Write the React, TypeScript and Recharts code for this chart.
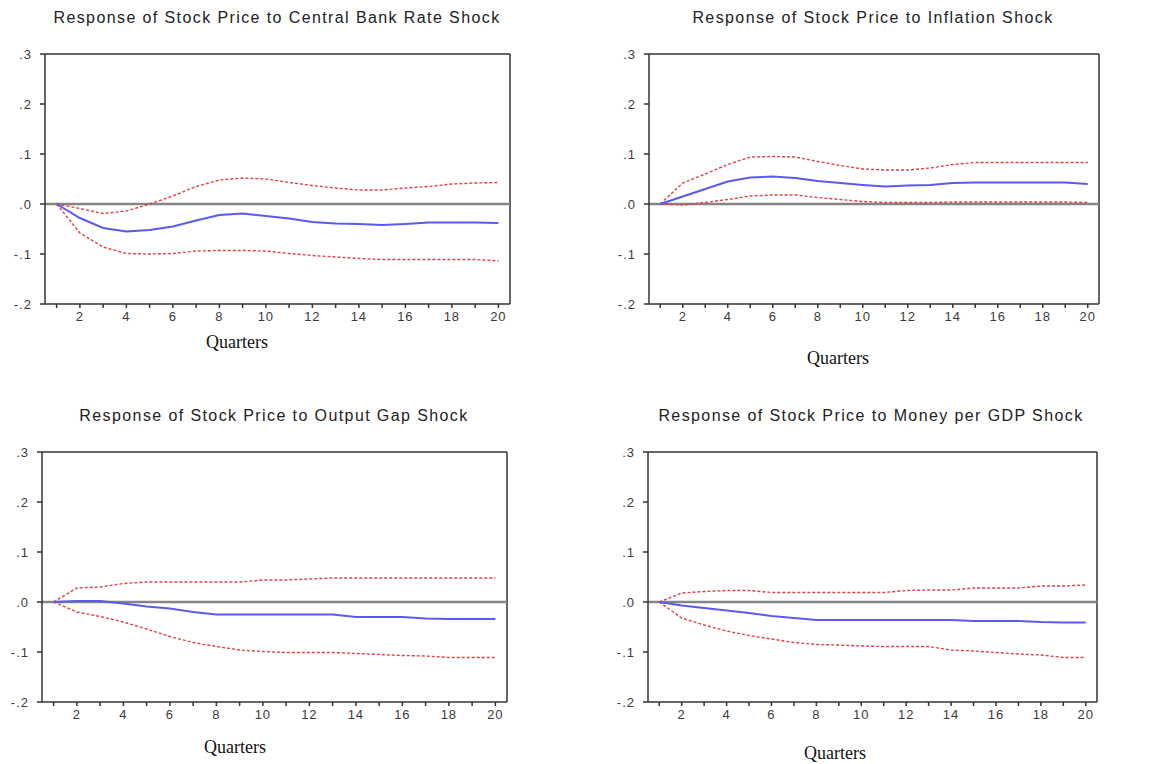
import React from 'react';
import { LineChart, Line, XAxis, YAxis, ReferenceLine } from 'recharts';

const quarters = [1, 2, 3, 4, 5, 6, 7, 8, 9, 10, 11, 12, 13, 14, 15, 16, 17, 18, 19, 20];
const yTicks = [-0.2, -0.1, 0, 0.1, 0.2, 0.3];

// Central bank rate shock
const rateResp = [0, -0.028, -0.048, -0.055, -0.052, -0.045, -0.033, -0.022, -0.019, -0.024, -0.029, -0.036, -0.039, -0.040, -0.042, -0.040, -0.037, -0.037, -0.037, -0.038];
const rateHi = [0, -0.009, -0.019, -0.014, 0.0, 0.016, 0.035, 0.048, 0.052, 0.050, 0.043, 0.037, 0.032, 0.028, 0.028, 0.032, 0.035, 0.040, 0.042, 0.043];
const rateLo = [0, -0.058, -0.086, -0.099, -0.100, -0.099, -0.094, -0.093, -0.093, -0.094, -0.099, -0.103, -0.106, -0.109, -0.111, -0.111, -0.111, -0.111, -0.111, -0.114];

// Inflation shock
const inflResp = [0, 0.015, 0.030, 0.045, 0.053, 0.055, 0.052, 0.046, 0.042, 0.038, 0.035, 0.037, 0.038, 0.042, 0.043, 0.043, 0.043, 0.043, 0.043, 0.040];
const inflHi = [0, 0.042, 0.060, 0.079, 0.094, 0.095, 0.094, 0.085, 0.077, 0.070, 0.068, 0.068, 0.072, 0.079, 0.083, 0.083, 0.083, 0.083, 0.083, 0.083];
const inflLo = [0, -0.002, 0.003, 0.009, 0.016, 0.018, 0.018, 0.013, 0.009, 0.005, 0.003, 0.003, 0.003, 0.004, 0.004, 0.004, 0.004, 0.004, 0.004, 0.003];

// Output gap shock
const gapResp = [0, 0.002, 0.002, -0.003, -0.009, -0.013, -0.020, -0.025, -0.025, -0.025, -0.025, -0.025, -0.025, -0.030, -0.030, -0.030, -0.033, -0.034, -0.034, -0.034];
const gapHi = [0, 0.028, 0.030, 0.037, 0.040, 0.040, 0.040, 0.040, 0.040, 0.044, 0.044, 0.046, 0.048, 0.048, 0.048, 0.048, 0.048, 0.048, 0.048, 0.048];
const gapLo = [0, -0.020, -0.029, -0.040, -0.054, -0.069, -0.081, -0.089, -0.096, -0.099, -0.101, -0.101, -0.101, -0.103, -0.105, -0.107, -0.108, -0.111, -0.111, -0.111];

// Money per GDP shock
const moneyResp = [0, -0.007, -0.012, -0.017, -0.022, -0.028, -0.032, -0.036, -0.036, -0.036, -0.036, -0.036, -0.036, -0.036, -0.038, -0.038, -0.038, -0.040, -0.041, -0.041];
const moneyHi = [0, 0.018, 0.021, 0.023, 0.023, 0.019, 0.019, 0.019, 0.019, 0.019, 0.019, 0.023, 0.024, 0.024, 0.028, 0.028, 0.028, 0.032, 0.032, 0.034];
const moneyLo = [0, -0.032, -0.046, -0.058, -0.067, -0.074, -0.081, -0.085, -0.086, -0.088, -0.089, -0.089, -0.089, -0.096, -0.098, -0.101, -0.104, -0.106, -0.111, -0.111];

const build = (resp: number[], hi: number[], lo: number[]) =>
  quarters.map((q, i) => ({ q, resp: resp[i], hi: hi[i], lo: lo[i] }));

const fmtY = (v: number) => v.toFixed(1).replace('0.', '.');
const fmtX = (v: number) => (v % 2 === 0 ? String(v) : '');

const tickStyle = { fontFamily: 'Liberation Sans, Arial, sans-serif', fontSize: 13, fill: '#3a3a3a', letterSpacing: 1 };
const FRAME = '#333';

interface PanelProps {
  title: string;
  data: ReturnType<typeof build>;
  box: { x0: number; x1: number; y0: number; y1: number };
  titleY: number;
  titleX: number;
  qx: number;
  qy: number;
}

const Panel: React.FC<PanelProps> = ({ title, data, box, titleX, titleY, qx, qy }) => {
  const w = box.x1 - box.x0 + 50;
  const h = box.y1 - box.y0 + 40;
  return (
    <>
      <div
        style={{
          position: 'absolute',
          left: titleX - 300,
          top: titleY - 11,
          width: 600,
          textAlign: 'center',
          fontFamily: 'Liberation Sans, Arial, sans-serif',
          fontSize: 16,
          letterSpacing: 1.4,
          color: '#222',
          lineHeight: '22px',
        }}
      >
        {title}
      </div>
      <div style={{ position: 'absolute', left: box.x0 - 40, top: box.y0 - 10 }}>
        <LineChart width={w} height={h} data={data} margin={{ top: 10, right: 10, left: 10, bottom: 0 }}>
          <XAxis
            dataKey="q"
            type="number"
            domain={[0.5, 20.5]}
            ticks={quarters}
            tickFormatter={fmtX}
            interval={0}
            tickSize={4}
            tickMargin={4}
            height={30}
            stroke={FRAME}
            strokeWidth={1.5}
            tick={tickStyle}
          />
          <YAxis
            domain={[-0.2, 0.3]}
            ticks={yTicks}
            tickFormatter={fmtY}
            width={30}
            tickSize={5}
            tickMargin={8}
            stroke={FRAME}
            strokeWidth={1.5}
            tick={tickStyle}
          />
          {/* top and right edges of the plot frame */}
          <ReferenceLine y={0.3} stroke={FRAME} strokeWidth={1.5} />
          <ReferenceLine x={20.5} stroke={FRAME} strokeWidth={1.5} />
          <ReferenceLine y={0} stroke="#858585" strokeWidth={2.5} />
          <Line dataKey="hi" stroke="#e04040" strokeWidth={1.4} strokeDasharray="3 2" dot={false} isAnimationActive={false} />
          <Line dataKey="lo" stroke="#e04040" strokeWidth={1.4} strokeDasharray="3 2" dot={false} isAnimationActive={false} />
          <Line dataKey="resp" stroke="#5a5aee" strokeWidth={2} dot={false} isAnimationActive={false} />
        </LineChart>
      </div>
      <div
        style={{
          position: 'absolute',
          left: qx - 60,
          top: qy - 11,
          width: 120,
          textAlign: 'center',
          fontFamily: 'Liberation Serif, Times New Roman, serif',
          fontSize: 18,
          lineHeight: '22px',
          color: '#111',
        }}
      >
        Quarters
      </div>
    </>
  );
};

export default function App() {
  return (
    <div style={{ position: 'absolute', left: 0, top: 0, width: 1157, height: 764, background: '#fff' }}>
      <Panel
        title="Response of Stock Price to Central Bank Rate Shock"
        data={build(rateResp, rateHi, rateLo)}
        box={{ x0: 45, x1: 510, y0: 54, y1: 304 }}
        titleX={277}
        titleY={18}
        qx={237}
        qy={342}
      />
      <Panel
        title="Response of Stock Price to Inflation Shock"
        data={build(inflResp, inflHi, inflLo)}
        box={{ x0: 649, x1: 1099, y0: 54, y1: 304 }}
        titleX={873}
        titleY={18}
        qx={838}
        qy={358}
      />
      <Panel
        title="Response of Stock Price to Output Gap Shock"
        data={build(gapResp, gapHi, gapLo)}
        box={{ x0: 42, x1: 507, y0: 452, y1: 702 }}
        titleX={274}
        titleY={416}
        qx={235}
        qy={747}
      />
      <Panel
        title="Response of Stock Price to Money per GDP Shock"
        data={build(moneyResp, moneyHi, moneyLo)}
        box={{ x0: 648, x1: 1097, y0: 452, y1: 702 }}
        titleX={871}
        titleY={416}
        qx={835}
        qy={753}
      />
    </div>
  );
}
